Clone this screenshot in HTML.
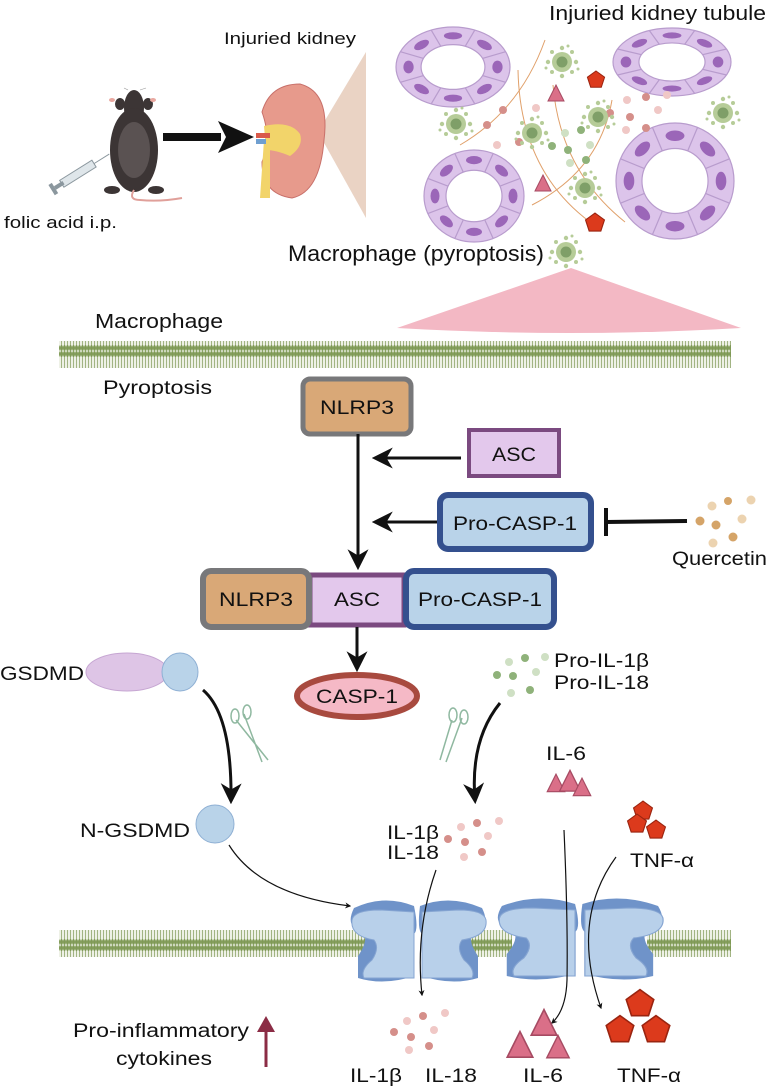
<!DOCTYPE html>
<html><head><meta charset="utf-8"><style>
html,body{margin:0;padding:0;background:#fff}
svg{display:block}
text{font-family:"Liberation Sans",Arial,sans-serif;fill:#111}
</style></head><body>
<svg width="767" height="1087" viewBox="0 0 767 1087" xmlns="http://www.w3.org/2000/svg">
<defs>
<pattern id="mem" width="3" height="27" patternUnits="userSpaceOnUse">
<rect width="3" height="27" fill="#eef1e6"/>
<line x1="1.5" y1="3" x2="1.5" y2="24" stroke="#8fa56a" stroke-width="0.8"/>
<ellipse cx="1.5" cy="3" rx="1.5" ry="3" fill="#7f9a55"/>
<ellipse cx="1.5" cy="24" rx="1.5" ry="3" fill="#7f9a55"/>
</pattern>
<marker id="ah" viewBox="0 0 10 10" refX="8" refY="5" markerWidth="5" markerHeight="5" orient="auto"><path d="M0,0 L10,5 L0,10 L3,5z" fill="#111"/></marker>
<marker id="ahs" viewBox="0 0 10 10" refX="8" refY="5" markerWidth="7" markerHeight="7" orient="auto"><path d="M0,0 L10,5 L0,10 L3,5z" fill="#111"/></marker>
<g id="tub">
<ellipse cx="0" cy="0" rx="1" ry="1" fill="#dcc4ea" stroke="#b89ccd" stroke-width="1.2" vector-effect="non-scaling-stroke"/>
<ellipse cx="0" cy="0" rx="0.56" ry="0.56" fill="#fff" stroke="#b89ccd" stroke-width="1.2" vector-effect="non-scaling-stroke"/>
<g stroke="#b89ccd" stroke-width="1.2" vector-effect="non-scaling-stroke">
<line x1="0.56" y1="0" x2="1" y2="0" transform="rotate(22.5)" vector-effect="non-scaling-stroke"/>
<line x1="0.56" y1="0" x2="1" y2="0" transform="rotate(67.5)" vector-effect="non-scaling-stroke"/>
<line x1="0.56" y1="0" x2="1" y2="0" transform="rotate(112.5)" vector-effect="non-scaling-stroke"/>
<line x1="0.56" y1="0" x2="1" y2="0" transform="rotate(157.5)" vector-effect="non-scaling-stroke"/>
<line x1="0.56" y1="0" x2="1" y2="0" transform="rotate(202.5)" vector-effect="non-scaling-stroke"/>
<line x1="0.56" y1="0" x2="1" y2="0" transform="rotate(247.5)" vector-effect="non-scaling-stroke"/>
<line x1="0.56" y1="0" x2="1" y2="0" transform="rotate(292.5)" vector-effect="non-scaling-stroke"/>
<line x1="0.56" y1="0" x2="1" y2="0" transform="rotate(337.5)" vector-effect="non-scaling-stroke"/>
</g>
<g fill="#9b66b8">
<ellipse cx="0.78" cy="0" rx="0.09" ry="0.16" transform="rotate(0)"/>
<ellipse cx="0.78" cy="0" rx="0.09" ry="0.16" transform="rotate(45)"/>
<ellipse cx="0.78" cy="0" rx="0.09" ry="0.16" transform="rotate(90)"/>
<ellipse cx="0.78" cy="0" rx="0.09" ry="0.16" transform="rotate(135)"/>
<ellipse cx="0.78" cy="0" rx="0.09" ry="0.16" transform="rotate(180)"/>
<ellipse cx="0.78" cy="0" rx="0.09" ry="0.16" transform="rotate(225)"/>
<ellipse cx="0.78" cy="0" rx="0.09" ry="0.16" transform="rotate(270)"/>
<ellipse cx="0.78" cy="0" rx="0.09" ry="0.16" transform="rotate(315)"/>
</g>
</g>
<g id="mac">
<g fill="#b6cc98"><circle cx="0" cy="-14" r="2.2"/><circle cx="10" cy="-10" r="2"/><circle cx="14" cy="0" r="2.2"/><circle cx="10" cy="10" r="2"/><circle cx="0" cy="14" r="2.2"/><circle cx="-10" cy="10" r="2"/><circle cx="-14" cy="0" r="2.2"/><circle cx="-10" cy="-10" r="2"/><circle cx="6" cy="-16" r="1.5"/><circle cx="-16" cy="6" r="1.5"/><circle cx="16" cy="7" r="1.5"/></g>
<circle cx="0" cy="0" r="10" fill="#b6cc98"/>
<circle cx="0" cy="0" r="5.5" fill="#7f9f68"/>
</g>
<polygon id="pent" points="0,-9 8.6,-2.8 5.3,7.3 -5.3,7.3 -8.6,-2.8" fill="#dc3a1c" stroke="#9a2410" stroke-width="1"/>
<polygon id="tri" points="0,-9 8,7 -8,7" fill="#da6f88" stroke="#a64a62" stroke-width="1"/>
<g id="chan">
<path d="M4,8 Q34,-6 64,6 Q69,30 64,34 L64,76 Q34,86 8,78 L8,56 Q18,42 14,32 Q-6,28 4,8z" fill="#6f93c9"/>
<path d="M70,6 Q100,-6 132,8 Q142,28 122,32 Q118,42 128,56 L128,78 Q102,86 72,76 L72,34 Q67,30 70,6z" fill="#6f93c9"/>
<path d="M2,20 Q4,10 30,10 L64,12 L64,78 L14,78 Q10,70 22,60 Q30,48 24,40 Q0,36 2,20z" fill="#b8d0ea" stroke="#86a5d2" stroke-width="1"/>
<path d="M136,20 Q134,10 108,10 L72,12 L72,78 L122,78 Q126,70 114,60 Q106,48 112,40 Q138,36 136,20z" fill="#b8d0ea" stroke="#86a5d2" stroke-width="1"/>
</g>
</defs>

<!-- Top labels -->
<text x="549" y="20" font-size="20" textLength="217" lengthAdjust="spacingAndGlyphs">Injuried kidney tubule</text>
<text x="224" y="44" font-size="17" textLength="132" lengthAdjust="spacingAndGlyphs">Injuried kidney</text>
<text x="4" y="228" font-size="17" textLength="113" lengthAdjust="spacingAndGlyphs">folic acid i.p.</text>

<!-- syringe -->
<g transform="translate(55,188) rotate(-32)">
<rect x="8" y="-4" width="38" height="8" fill="#dfe6ea" stroke="#8b979e" stroke-width="1"/>
<rect x="0" y="-2" width="10" height="4" fill="#8b979e"/>
<rect x="-4" y="-6" width="4" height="12" fill="#8b979e"/>
<line x1="46" y1="0" x2="64" y2="0" stroke="#8b979e" stroke-width="1"/>
</g>
<!-- mouse -->
<g>
<path d="M128,90 L124,88 M140,90 L146,88" stroke="#999" stroke-width="0.6"/>
<ellipse cx="134" cy="108" rx="10" ry="18" fill="#3c3535"/>
<ellipse cx="120" cy="104" rx="5" ry="6" fill="#3c3535"/><ellipse cx="148" cy="104" rx="5" ry="6" fill="#3c3535"/>
<ellipse cx="134" cy="150" rx="24" ry="42" fill="#3c3535"/>
<ellipse cx="134" cy="150" rx="16" ry="28" fill="#5a5252"/>
<ellipse cx="112" cy="100" rx="3" ry="2" fill="#e9a8a0"/><ellipse cx="153" cy="100" rx="3" ry="2" fill="#e9a8a0"/>
<ellipse cx="112" cy="190" rx="8" ry="4" fill="#3c3535"/><ellipse cx="156" cy="190" rx="8" ry="4" fill="#3c3535"/>
<path d="M134,190 Q128,200 140,200 Q160,202 182,198" stroke="#e0a09a" stroke-width="2" fill="none"/>
</g>
<!-- black arrow -->
<rect x="163" y="133" width="58" height="8" fill="#111"/>
<polygon points="218,121 254,137 218,153 226,137" fill="#111"/>

<!-- kidney -->
<polygon points="318,132 366,52 366,218" fill="#ead3c4"/>
<path d="M300,84 Q330,92 324,140 Q320,192 292,198 Q262,194 262,162 Q272,140 262,112 Q270,84 300,84z" fill="#e79a8c" stroke="#c8706a" stroke-width="1"/>
<path d="M264,126 Q290,120 300,134 Q304,146 290,156 Q276,150 266,150z" fill="#f2d46a"/>
<path d="M264,140 L270,140 L270,198 L260,198 Z" fill="#f2d46a"/>
<rect x="256" y="133" width="14" height="5" fill="#d95a4a"/>
<rect x="256" y="139" width="10" height="5" fill="#6f9fd0"/>

<!-- orange curves -->
<g stroke="#e0a06a" stroke-width="1" fill="none">
<path d="M545,40 Q520,110 460,145"/>
<path d="M518,70 Q520,170 590,222"/>
<path d="M553,85 Q560,170 625,222"/>
<path d="M612,100 Q600,170 532,205"/>
</g>
<!-- tubules -->
<use href="#tub" transform="translate(453,67) scale(57,40)"/>
<use href="#tub" transform="translate(672,62) scale(59,34)"/>
<use href="#tub" transform="translate(474,196) scale(50,46)"/>
<use href="#tub" transform="translate(675,181) scale(59,58)"/>

<!-- dots -->
<g fill="#d58f8a"><circle cx="503" cy="110" r="4"/><circle cx="487" cy="125" r="4"/><circle cx="519" cy="142" r="4"/><circle cx="646" cy="97" r="4"/><circle cx="630" cy="117" r="4"/><circle cx="646" cy="128" r="4"/><circle cx="610" cy="113" r="4"/></g>
<g fill="#f0c8c6"><circle cx="497" cy="145" r="4"/><circle cx="536" cy="108" r="4"/><circle cx="627" cy="100" r="4"/><circle cx="658" cy="110" r="4"/><circle cx="667" cy="95" r="4"/><circle cx="626" cy="130" r="4"/></g>
<g fill="#8fb27a"><circle cx="552" cy="146" r="4"/><circle cx="568" cy="150" r="4"/><circle cx="586" cy="160" r="4"/><circle cx="581" cy="130" r="4"/></g>
<g fill="#cfe0c4"><circle cx="565" cy="133" r="4"/><circle cx="590" cy="145" r="4"/><circle cx="570" cy="163" r="4"/></g>

<use href="#mac" transform="translate(562,62)"/>
<use href="#mac" transform="translate(456,124)"/>
<use href="#mac" transform="translate(532,133)"/>
<use href="#mac" transform="translate(598,117)"/>
<use href="#mac" transform="translate(723,113)"/>
<use href="#mac" transform="translate(585,188)"/>
<use href="#mac" transform="translate(566,252)"/>
<use href="#pent" transform="translate(596,80)"/>
<use href="#pent" transform="translate(595,223) scale(1.1)"/>
<use href="#tri" transform="translate(556,94)"/>
<use href="#tri" transform="translate(543,184)"/>

<text x="288" y="261" font-size="22" textLength="256" lengthAdjust="spacingAndGlyphs">Macrophage (pyroptosis)</text>
<path d="M571,268 L741,328 Q570,338 397,328 Z" fill="#f3b8c4"/>
<text x="95" y="328" font-size="20" textLength="128" lengthAdjust="spacingAndGlyphs">Macrophage</text>
<rect x="59" y="341" width="672" height="27" fill="url(#mem)"/>
<text x="103" y="394" font-size="19" textLength="109" lengthAdjust="spacingAndGlyphs">Pyroptosis</text>

<!-- NLRP3 top -->
<rect x="303" y="379" width="108" height="55" rx="7" fill="#d9a877" stroke="#78787a" stroke-width="5"/>
<text x="357" y="414" font-size="19" text-anchor="middle" textLength="74" lengthAdjust="spacingAndGlyphs">NLRP3</text>
<!-- ASC -->
<rect x="469" y="430" width="90" height="46" fill="#e3c8ec" stroke="#7b4a80" stroke-width="4"/>
<text x="514" y="461" font-size="19" text-anchor="middle" textLength="44" lengthAdjust="spacingAndGlyphs">ASC</text>
<!-- Pro-CASP-1 -->
<rect x="440" y="495" width="151" height="54" rx="8" fill="#b9d3e9" stroke="#34508e" stroke-width="6"/>
<text x="515" y="530" font-size="19" text-anchor="middle" textLength="124" lengthAdjust="spacingAndGlyphs">Pro-CASP-1</text>
<!-- arrows -->
<line x1="358" y1="434" x2="358" y2="566" stroke="#111" stroke-width="3" marker-end="url(#ahs)"/>
<line x1="461" y1="458" x2="376" y2="458" stroke="#111" stroke-width="3" marker-end="url(#ahs)"/>
<line x1="437" y1="522" x2="376" y2="522" stroke="#111" stroke-width="3" marker-end="url(#ahs)"/>
<line x1="687" y1="521" x2="606" y2="522" stroke="#111" stroke-width="4"/>
<line x1="606" y1="508" x2="606" y2="536" stroke="#111" stroke-width="4"/>
<g fill="#d5a468"><circle cx="728" cy="501" r="4"/><circle cx="700" cy="521" r="4.5"/><circle cx="716" cy="525" r="4.5"/><circle cx="733" cy="537" r="4.5"/></g>
<g fill="#ecd3b0"><circle cx="712" cy="506" r="4.5"/><circle cx="751" cy="500" r="4.5"/><circle cx="742" cy="519" r="4.5"/><circle cx="713" cy="543" r="4.5"/></g>
<text x="672" y="565" font-size="19" textLength="95" lengthAdjust="spacingAndGlyphs">Quercetin</text>

<!-- complex -->
<rect x="310" y="575" width="94" height="50" fill="#e3c8ec" stroke="#7b4a80" stroke-width="5"/>
<rect x="203" y="571" width="106" height="56" rx="8" fill="#d9a877" stroke="#78787a" stroke-width="6"/>
<rect x="406" y="571" width="148" height="56" rx="8" fill="#b9d3e9" stroke="#34508e" stroke-width="6"/>
<text x="256" y="606" font-size="19" text-anchor="middle" textLength="74" lengthAdjust="spacingAndGlyphs">NLRP3</text>
<text x="357" y="606" font-size="19" text-anchor="middle" textLength="46" lengthAdjust="spacingAndGlyphs">ASC</text>
<text x="480" y="606" font-size="19" text-anchor="middle" textLength="124" lengthAdjust="spacingAndGlyphs">Pro-CASP-1</text>
<line x1="357" y1="627" x2="357" y2="668" stroke="#111" stroke-width="3" marker-end="url(#ahs)"/>
<!-- CASP-1 -->
<ellipse cx="357" cy="696" rx="60" ry="21" fill="#f5b9c6" stroke="#a84a3f" stroke-width="6"/>
<text x="357" y="703" font-size="19" text-anchor="middle" textLength="82" lengthAdjust="spacingAndGlyphs">CASP-1</text>

<!-- GSDMD -->
<text x="0" y="680" font-size="19" textLength="84" lengthAdjust="spacingAndGlyphs">GSDMD</text>
<ellipse cx="127" cy="672" rx="41" ry="19" fill="#dec5e6" stroke="#c6a6d2" stroke-width="1"/>
<ellipse cx="180" cy="672" rx="18" ry="19" fill="#b9d3e9" stroke="#8fb0d4" stroke-width="1"/>
<path d="M203,690 Q232,715 231,800" stroke="#111" stroke-width="3" fill="none" marker-end="url(#ahs)"/>
<!-- scissors -->
<g stroke="#8fb8a0" stroke-width="1.5" fill="none">
<path d="M236,720 L268,760 M244,714 L262,762"/><ellipse cx="235" cy="716" rx="4" ry="7"/><ellipse cx="247" cy="712" rx="4" ry="7"/>
<path d="M452,720 L440,760 M462,718 L446,762"/><ellipse cx="453" cy="715" rx="4" ry="7"/><ellipse cx="464" cy="717" rx="4" ry="7"/>
</g>
<text x="80" y="837" font-size="19" textLength="110" lengthAdjust="spacingAndGlyphs">N-GSDMD</text>
<ellipse cx="215" cy="824" rx="19" ry="19" fill="#b9d3e9" stroke="#8fb0d4" stroke-width="1"/>
<path d="M229,845 Q260,895 350,906" stroke="#111" stroke-width="1.2" fill="none" marker-end="url(#ah)"/>

<!-- Pro-IL -->
<g fill="#8fb27a"><circle cx="525" cy="658" r="4"/><circle cx="513" cy="676" r="4"/><circle cx="530" cy="690" r="4"/><circle cx="497" cy="675" r="4"/></g>
<g fill="#cfe0c4"><circle cx="509" cy="662" r="4"/><circle cx="545" cy="657" r="4"/><circle cx="536" cy="672" r="4"/><circle cx="511" cy="693" r="4"/></g>
<text x="554" y="667" font-size="19" textLength="95" lengthAdjust="spacingAndGlyphs">Pro-IL-1β</text>
<text x="554" y="689" font-size="19" textLength="95" lengthAdjust="spacingAndGlyphs">Pro-IL-18</text>
<path d="M500,703 Q470,740 475,800" stroke="#111" stroke-width="3" fill="none" marker-end="url(#ahs)"/>
<text x="546" y="760" font-size="19" textLength="40" lengthAdjust="spacingAndGlyphs">IL-6</text>
<use href="#tri" transform="translate(556,784) scale(1.1)"/>
<use href="#tri" transform="translate(570,782) scale(1.3)"/>
<use href="#tri" transform="translate(582,788) scale(1.1)"/>
<use href="#pent" transform="translate(643,811) scale(1.1)"/>
<use href="#pent" transform="translate(637,824) scale(1.1)"/>
<use href="#pent" transform="translate(656,830) scale(1.1)"/>
<text x="630" y="867" font-size="19" textLength="64" lengthAdjust="spacingAndGlyphs">TNF-α</text>

<text x="387" y="839" font-size="19" textLength="52" lengthAdjust="spacingAndGlyphs">IL-1β</text>
<text x="387" y="859" font-size="19" textLength="52" lengthAdjust="spacingAndGlyphs">IL-18</text>
<g fill="#d58f8a"><circle cx="477" cy="823" r="4"/><circle cx="448" cy="839" r="4"/><circle cx="465" cy="842" r="4"/><circle cx="482" cy="852" r="4"/></g>
<g fill="#f0c8c6"><circle cx="461" cy="827" r="4"/><circle cx="499" cy="821" r="4"/><circle cx="488" cy="836" r="4"/><circle cx="464" cy="857" r="4"/></g>

<!-- lower membrane & channels -->
<rect x="59" y="930" width="672" height="27" fill="url(#mem)"/>
<rect x="370" y="925" width="100" height="40" fill="#fff"/>
<rect x="512" y="925" width="135" height="40" fill="#fff"/>
<use href="#chan" transform="translate(350,900)"/>
<use href="#chan" transform="translate(497,898) scale(1.22,1)"/>
<path d="M436,870 Q415,930 422,995" stroke="#111" stroke-width="1.2" fill="none" marker-end="url(#ah)"/>
<path d="M564,830 Q568,920 567,980 Q566,1010 552,1023" stroke="#111" stroke-width="1.2" fill="none" marker-end="url(#ah)"/>
<path d="M616,857 Q570,920 601,1008" stroke="#111" stroke-width="1.2" fill="none" marker-end="url(#ah)"/>

<!-- bottom -->
<g fill="#d58f8a"><circle cx="423" cy="1016" r="4"/><circle cx="394" cy="1032" r="4"/><circle cx="411" cy="1037" r="4"/><circle cx="429" cy="1046" r="4"/></g>
<g fill="#f0c8c6"><circle cx="407" cy="1021" r="4"/><circle cx="445" cy="1013" r="4"/><circle cx="434" cy="1030" r="4"/><circle cx="409" cy="1050" r="4"/></g>
<use href="#tri" transform="translate(544,1024) scale(1.6)"/>
<use href="#tri" transform="translate(520,1046) scale(1.6)"/>
<use href="#tri" transform="translate(558,1048) scale(1.4)"/>
<use href="#pent" transform="translate(640,1004) scale(1.6)"/>
<use href="#pent" transform="translate(620,1030) scale(1.6)"/>
<use href="#pent" transform="translate(656,1030) scale(1.6)"/>
<text x="350" y="1082" font-size="19" textLength="52" lengthAdjust="spacingAndGlyphs">IL-1β</text>
<text x="425" y="1082" font-size="19" textLength="52" lengthAdjust="spacingAndGlyphs">IL-18</text>
<text x="523" y="1082" font-size="19" textLength="40" lengthAdjust="spacingAndGlyphs">IL-6</text>
<text x="617" y="1082" font-size="19" textLength="64" lengthAdjust="spacingAndGlyphs">TNF-α</text>
<text x="73" y="1037" font-size="19" textLength="176" lengthAdjust="spacingAndGlyphs">Pro-inflammatory</text>
<text x="116" y="1065" font-size="19" textLength="96" lengthAdjust="spacingAndGlyphs">cytokines</text>
<line x1="266" y1="1067" x2="266" y2="1030" stroke="#8b2c45" stroke-width="3"/>
<polygon points="266,1016 257,1032 275,1032" fill="#8b2c45"/>
</svg>
</body></html>
